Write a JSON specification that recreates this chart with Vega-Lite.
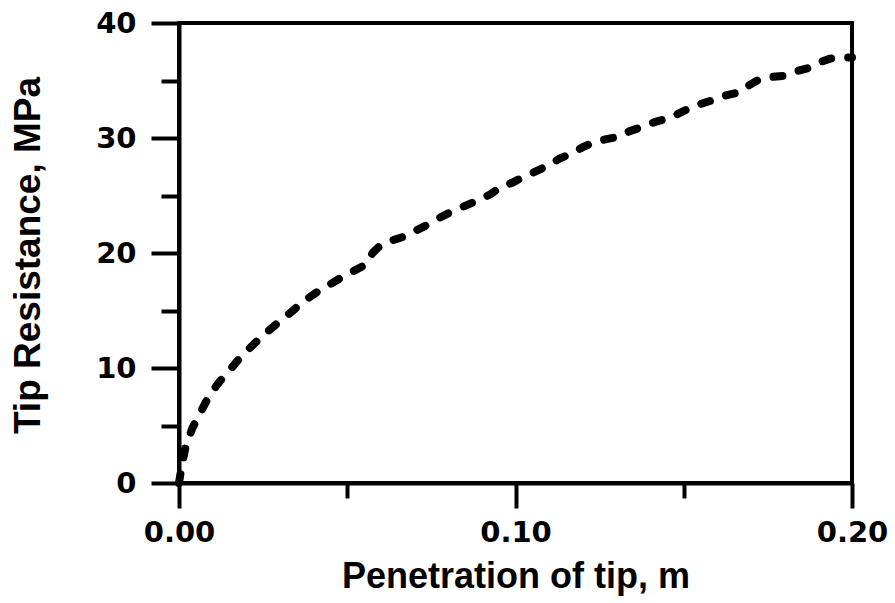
{
  "$schema": "https://vega.github.io/schema/vega-lite/v6.json",
  "width": 673,
  "height": 460,
  "autosize": "none",
  "padding": {"left": 179, "top": 23, "right": 43, "bottom": 120},
  "background": "white",
  "config": {
    "view": {"stroke": "black", "strokeWidth": 4},
    "axis": {"domainColor": "black", "domainWidth": 4, "tickColor": "black", "tickWidth": 4, "labelColor": "black", "titleColor": "black", "grid": false}
  },
  "data": {
    "values": [
      {"x": 0, "y": 0}, {"x": 0.0008, "y": 1.5}, {"x": 0.002, "y": 3.2}, {"x": 0.004, "y": 4.8},
      {"x": 0.0065, "y": 6.2}, {"x": 0.009, "y": 7.6}, {"x": 0.012, "y": 8.8}, {"x": 0.015, "y": 9.8},
      {"x": 0.0185, "y": 11.0}, {"x": 0.0223, "y": 12.1}, {"x": 0.026, "y": 13.1}, {"x": 0.0297, "y": 14.0},
      {"x": 0.0335, "y": 14.9}, {"x": 0.037, "y": 15.8}, {"x": 0.041, "y": 16.6}, {"x": 0.045, "y": 17.3},
      {"x": 0.049, "y": 18.0}, {"x": 0.053, "y": 18.6}, {"x": 0.0555, "y": 19.0}, {"x": 0.0575, "y": 20.0},
      {"x": 0.06, "y": 20.7}, {"x": 0.0635, "y": 21.1}, {"x": 0.0665, "y": 21.4}, {"x": 0.07, "y": 21.9},
      {"x": 0.0735, "y": 22.4}, {"x": 0.077, "y": 23.0}, {"x": 0.081, "y": 23.6}, {"x": 0.085, "y": 24.1},
      {"x": 0.089, "y": 24.6}, {"x": 0.0925, "y": 25.1}, {"x": 0.0955, "y": 25.7}, {"x": 0.099, "y": 26.1},
      {"x": 0.1022, "y": 26.6}, {"x": 0.106, "y": 27.1}, {"x": 0.1097, "y": 27.6}, {"x": 0.113, "y": 28.2},
      {"x": 0.1162, "y": 28.6}, {"x": 0.12, "y": 29.2}, {"x": 0.123, "y": 29.6}, {"x": 0.127, "y": 29.9},
      {"x": 0.1305, "y": 30.1}, {"x": 0.134, "y": 30.6}, {"x": 0.138, "y": 31.0}, {"x": 0.1415, "y": 31.4},
      {"x": 0.1453, "y": 31.7}, {"x": 0.149, "y": 32.2}, {"x": 0.1525, "y": 32.7}, {"x": 0.1555, "y": 33.0},
      {"x": 0.1587, "y": 33.3}, {"x": 0.1625, "y": 33.7}, {"x": 0.1667, "y": 34.0}, {"x": 0.1695, "y": 34.6},
      {"x": 0.1724, "y": 35.1}, {"x": 0.176, "y": 35.3}, {"x": 0.1795, "y": 35.4}, {"x": 0.1835, "y": 35.8},
      {"x": 0.1872, "y": 36.1}, {"x": 0.1905, "y": 36.6}, {"x": 0.1935, "y": 36.9}, {"x": 0.197, "y": 37.0},
      {"x": 0.2, "y": 37.0}
    ]
  },
  "mark": {"type": "line", "color": "black", "strokeWidth": 8, "strokeDash": [9, 17], "strokeCap": "round", "strokeJoin": "round", "clip": false},
  "encoding": {
    "x": {
      "field": "x", "type": "quantitative",
      "scale": {"domain": [0, 0.2], "nice": false, "zero": false},
      "axis": {
        "title": "Penetration of tip, m",
        "values": [0, 0.05, 0.1, 0.15, 0.2],
        "format": ".2f",
        "labelExpr": "round(datum.value*100) % 10 == 5 ? '' : datum.label",
        "tickSize": {"condition": {"test": "round(datum.value*100) % 10 == 5", "value": 15}, "value": 25},
        "labelFont": "DejaVu Sans", "labelFontWeight": "bold", "labelFontSize": 29,
        "labelPadding": 10, "labelFlush": false, "labelOverlap": false,
        "titleFont": "Liberation Sans", "titleFontWeight": "bold", "titleFontSize": 36,
        "titlePadding": 12
      }
    },
    "y": {
      "field": "y", "type": "quantitative",
      "scale": {"domain": [0, 40], "nice": false},
      "axis": {
        "title": "Tip Resistance, MPa",
        "values": [0, 5, 10, 15, 20, 25, 30, 35, 40],
        "labelExpr": "datum.value % 10 == 5 ? '' : datum.label",
        "tickSize": {"condition": {"test": "datum.value % 10 == 5", "value": 18}, "value": 28},
        "labelFont": "DejaVu Sans", "labelFontWeight": "bold", "labelFontSize": 29,
        "labelPadding": 15, "labelFlush": false, "labelOverlap": false,
        "titleFont": "Liberation Sans", "titleFontWeight": "bold", "titleFontSize": 37,
        "titleX": -132, "titleY": 232
      }
    }
  }
}
